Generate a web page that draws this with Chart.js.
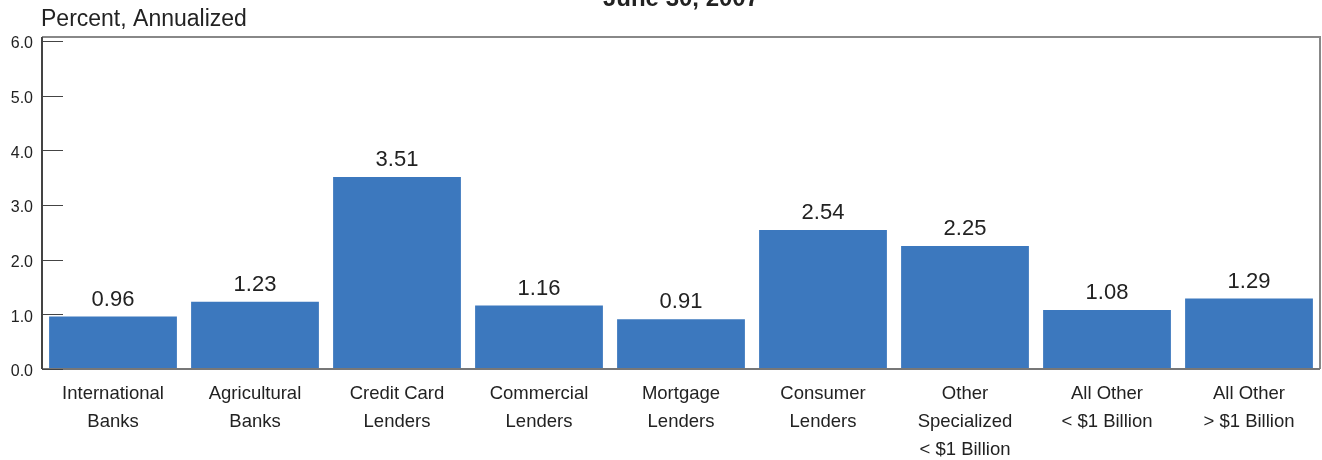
<!DOCTYPE html>
<html>
<head>
<meta charset="utf-8">
<script src="https://cdn.jsdelivr.net/npm/chart.js@4/dist/chart.umd.min.js"></script>
<style>
  html, body { margin: 0; padding: 0; background: #fff; }
  #wrap { width: 1322px; height: 460px; }
</style>
</head>
<body>
<div id="wrap"><canvas id="chart" width="1322" height="460"></canvas></div>
<script>
const categories = [
  ["International", "Banks"],
  ["Agricultural", "Banks"],
  ["Credit Card", "Lenders"],
  ["Commercial", "Lenders"],
  ["Mortgage", "Lenders"],
  ["Consumer", "Lenders"],
  ["Other", "Specialized", "< $1 Billion"],
  ["All Other", "< $1 Billion"],
  ["All Other", "> $1 Billion"]
];
const values = [0.96, 1.23, 3.51, 1.16, 0.91, 2.54, 2.25, 1.08, 1.29];
const yTicks = [0, 1, 2, 3, 4, 5, 6];
const titleText = "June 30, 2007";
const unitText = "Percent, Annualized";

const FONT = "'Liberation Sans', Arial, Helvetica, sans-serif";

// inward tick marks, frame, value labels and header text
const extras = {
  id: "extras",
  afterDatasetsDraw(chart) {
    const ctx = chart.ctx;
    const area = chart.chartArea;
    const y = chart.scales.y;
    ctx.save();
    // frame (top + right)
    ctx.strokeStyle = "#888";
    ctx.lineWidth = 2;
    ctx.beginPath();
    ctx.moveTo(area.left, area.top);
    ctx.lineTo(area.right, area.top);
    ctx.lineTo(area.right, area.bottom);
    ctx.stroke();
    // bottom axis
    ctx.strokeStyle = "#777";
    ctx.beginPath();
    ctx.moveTo(area.left, area.bottom);
    ctx.lineTo(area.right, area.bottom);
    ctx.stroke();
    // left axis
    ctx.strokeStyle = "#444";
    ctx.beginPath();
    ctx.moveTo(area.left, area.top);
    ctx.lineTo(area.left, area.bottom);
    ctx.stroke();
    // inward ticks
    ctx.lineWidth = 1;
    for (const t of yTicks) {
      const py = Math.round(y.getPixelForValue(t)) + 0.5;
      ctx.beginPath();
      ctx.moveTo(area.left, py);
      ctx.lineTo(area.left + 21, py);
      ctx.stroke();
    }
    // value labels
    const meta = chart.getDatasetMeta(0);
    ctx.fillStyle = "#222";
    ctx.font = "22px " + FONT;
    ctx.textAlign = "center";
    ctx.textBaseline = "bottom";
    meta.data.forEach((bar, i) => {
      ctx.fillText(values[i].toFixed(2), bar.x, bar.y - 6);
    });
    // header texts
    ctx.textAlign = "left";
    ctx.textBaseline = "alphabetic";
    ctx.font = "23px " + FONT;
    ctx.fillText(unitText, 41, 26);
    ctx.textAlign = "center";
    ctx.font = "bold 24px " + FONT;
    ctx.fillText(titleText, 681, 6);
    ctx.restore();
  }
};

new Chart(document.getElementById("chart").getContext("2d"), {
  type: "bar",
  data: {
    labels: categories,
    datasets: [{
      data: values,
      backgroundColor: "#3c78be",
      borderWidth: 0,
      barPercentage: 0.9,
      categoryPercentage: 1.0
    }]
  },
  options: {
    responsive: false,
    animation: false,
    layout: { padding: { top: 37, right: 2, left: 0, bottom: 0 } },
    plugins: { legend: { display: false }, tooltip: { enabled: false } },
    scales: {
      x: {
        grid: { display: false, drawTicks: false },
        border: { display: false },
        ticks: {
          color: "#222",
          font: { size: 18.5, family: FONT, lineHeight: 1.52 },
          padding: 11,
          maxRotation: 0,
          autoSkip: false
        },
        afterFit(s) { s.height = 91; }
      },
      y: {
        min: 0,
        max: 6.07,
        afterBuildTicks(s) { s.ticks = yTicks.map(v => ({ value: v })); },
        grid: { display: false, drawTicks: false },
        border: { display: false },
        ticks: {
          color: "#222",
          font: { size: 16, family: FONT },
          padding: 9,
          labelOffset: 3,
          callback: v => Number(v).toFixed(1)
        },
        afterFit(s) { s.width = 42; }
      }
    }
  },
  plugins: [extras]
});
</script>
</body>
</html>
